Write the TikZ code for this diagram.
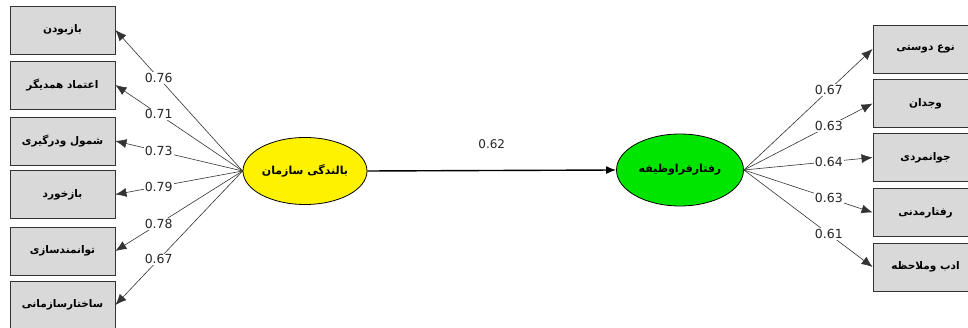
\documentclass[tikz,border=0pt]{standalone}
\usepackage{fontspec}
\setmainfont{DejaVu Sans}
\newfontfamily\arabicfont[Script=Arabic]{DejaVu Sans}
\TeXXeTstate=1
\usetikzlibrary{arrows.meta,shapes.geometric}

\begin{document}
\begin{tikzpicture}[x=1pt,y=-1pt,
  indicator/.style={draw=black!80, line width=0.9pt, fill=black!15,
    minimum width=105pt, minimum height=48pt, inner sep=0pt,
    font=\arabicfont\bfseries\fontsize{10.5}{11}\selectfont},
  latent/.style={ellipse, draw=black, line width=0.8pt, inner sep=0pt,
    font=\arabicfont\bfseries\fontsize{11}{12}\selectfont},
  load/.style={draw=black!80, line width=0.6pt, -{Latex[length=11pt,width=9pt]}},
  coef/.style={fill=white, inner sep=1pt, pos=0.66, text=black!85,
    font=\fontsize{12.5}{14}\selectfont},
  path/.style={draw=black, line width=1.4pt, -{Latex[length=10pt,width=8pt]}}
]
\useasboundingbox (0,0) rectangle (968,328);
\fill[white] (0,0) rectangle (968,328);
\clip (0,0) rectangle (968,328);

% latent variables
\node[latent, fill=yellow, minimum width=124pt, minimum height=67pt] (org) at (305,171)
  {\beginR بالندگی سازمان\endR};
\node[latent, fill=green!90!black, minimum width=127pt, minimum height=72pt] (ocb) at (680,170)
  {\beginR رفتارفراوظیفه\endR};

% indicators of the first construct
\node[indicator] (l1) at (62.5,30)  {\beginR بازبودن\endR};
\node[indicator] (l2) at (62.5,85)  {\beginR اعتماد همدیگر\endR};
\node[indicator] (l3) at (62.5,141) {\beginR شمول ودرگیری\endR};
\node[indicator] (l4) at (62.5,194.5) {\beginR بازخورد\endR};
\node[indicator] (l5) at (62.5,251) {\beginR توانمندسازی\endR};
\node[indicator] (l6) at (62.5,305) {\beginR ساختارسازمانی\endR};

% indicators of the second construct
\node[indicator] (r1) at (925.5,49)    {\beginR نوع دوستی\endR};
\node[indicator] (r2) at (925.5,103.5) {\beginR وجدان\endR};
\node[indicator] (r3) at (925.5,157.5) {\beginR جوانمردی\endR};
\node[indicator] (r4) at (925.5,212.5) {\beginR رفتارمدنی\endR};
\node[indicator] (r5) at (925.5,267)   {\beginR ادب وملاحظه\endR};

% structural path
\draw[path] (org.east) -- node[midway, yshift=26pt, text=black!85, font=\fontsize{12}{14}\selectfont] {0.62} (ocb.west);

% loadings
\draw[load] (org.west) -- node[coef] {0.76} (l1.east);
\draw[load] (org.west) -- node[coef] {0.71} (l2.east);
\draw[load] (org.west) -- node[coef] {0.73} (l3.east);
\draw[load] (org.west) -- node[coef] {0.79} (l4.east);
\draw[load] (org.west) -- node[coef] {0.78} (l5.east);
\draw[load] (org.west) -- node[coef] {0.67} (l6.east);

\draw[load] (ocb.east) -- node[coef] {0.67} (r1.west);
\draw[load] (ocb.east) -- node[coef] {0.63} (r2.west);
\draw[load] (ocb.east) -- node[coef] {0.64} (r3.west);
\draw[load] (ocb.east) -- node[coef] {0.63} (r4.west);
\draw[load] (ocb.east) -- node[coef] {0.61} (r5.west);
\end{tikzpicture}
\end{document}
